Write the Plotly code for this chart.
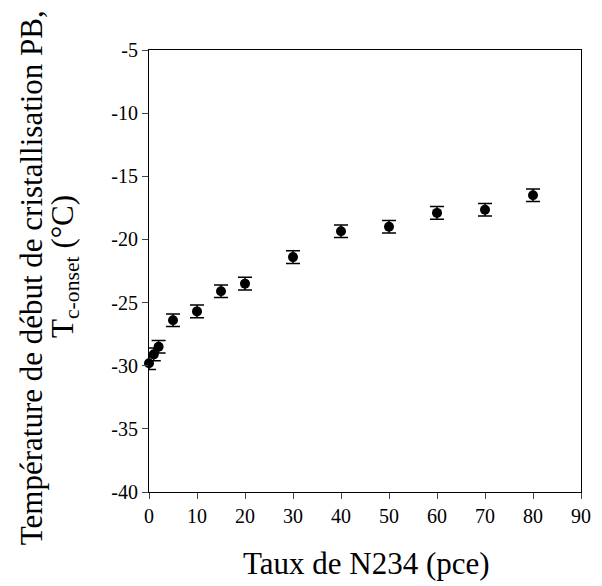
import plotly.graph_objects as go

taux = [0, 1, 2, 5, 10, 15, 20, 30, 40, 50, 60, 70, 80]
tc_onset = [-29.8, -29.1, -28.5, -26.4, -25.7, -24.1, -23.5, -21.4, -19.35, -19.0, -17.9, -17.65, -16.5]
err = [0.5, 0.5, 0.5, 0.5, 0.5, 0.5, 0.5, 0.5, 0.5, 0.5, 0.5, 0.5, 0.5]
x_ticks = [0, 10, 20, 30, 40, 50, 60, 70, 80, 90]
y_ticks = [-40, -35, -30, -25, -20, -15, -10, -5]
y_ticktext = ["-40", "-35", "-30", "-25", "-20", "-15", "-10", "-5"]

FONT = "Liberation Serif"

fig = go.Figure()
fig.add_trace(go.Scatter(
    x=taux, y=tc_onset, mode="markers",
    marker=dict(color="black", size=10),
    error_y=dict(type="data", array=err, visible=True, color="black", thickness=1.5, width=7),
    showlegend=False, cliponaxis=False,
))

L, R, T, B = 149, 11, 50, 94
W, H = 602, 586
pw = W - L - R
ph = H - T - B

def px_x(p):
    return (p - L) / pw

def px_y(p):
    return (H - B - p) / ph

fig.update_layout(
    width=W, height=H,
    margin=dict(l=L, r=R, t=T, b=B, pad=0),
    paper_bgcolor="white", plot_bgcolor="white",
    font=dict(family=FONT, color="black", size=20),
    xaxis=dict(range=[0, 90], tickvals=x_ticks, ticks="outside", ticklen=6, tickwidth=1,
               showline=True, linecolor="black", linewidth=1, mirror=True,
               showgrid=False, zeroline=False,
               tickfont=dict(size=20, family=FONT, color="black")),
    yaxis=dict(range=[-40, -5], tickvals=y_ticks, ticktext=y_ticktext, ticks="outside",
               ticklen=6, tickwidth=1,
               showline=True, linecolor="black", linewidth=1, mirror=True,
               showgrid=False, zeroline=False,
               tickfont=dict(size=20, family=FONT, color="black")),
    annotations=[
        dict(text="Taux de N234 (pce)", xref="paper", yref="paper",
             x=px_x(372), y=px_y(563), xanchor="center", yanchor="middle",
             showarrow=False, font=dict(size=31, family=FONT)),
        dict(text="Température de début de cristallisation PB,", xref="paper", yref="paper",
             x=px_x(29), y=px_y(277.5), xanchor="center", yanchor="middle", textangle=-90,
             showarrow=False, font=dict(size=31, family=FONT)),
        dict(text="T<sub>c-onset</sub> (°C)", xref="paper", yref="paper",
             x=px_x(63), y=px_y(266), xanchor="center", yanchor="middle", textangle=-90,
             showarrow=False, font=dict(size=31, family=FONT)),
    ],
)

fig.write_html("out.html")
